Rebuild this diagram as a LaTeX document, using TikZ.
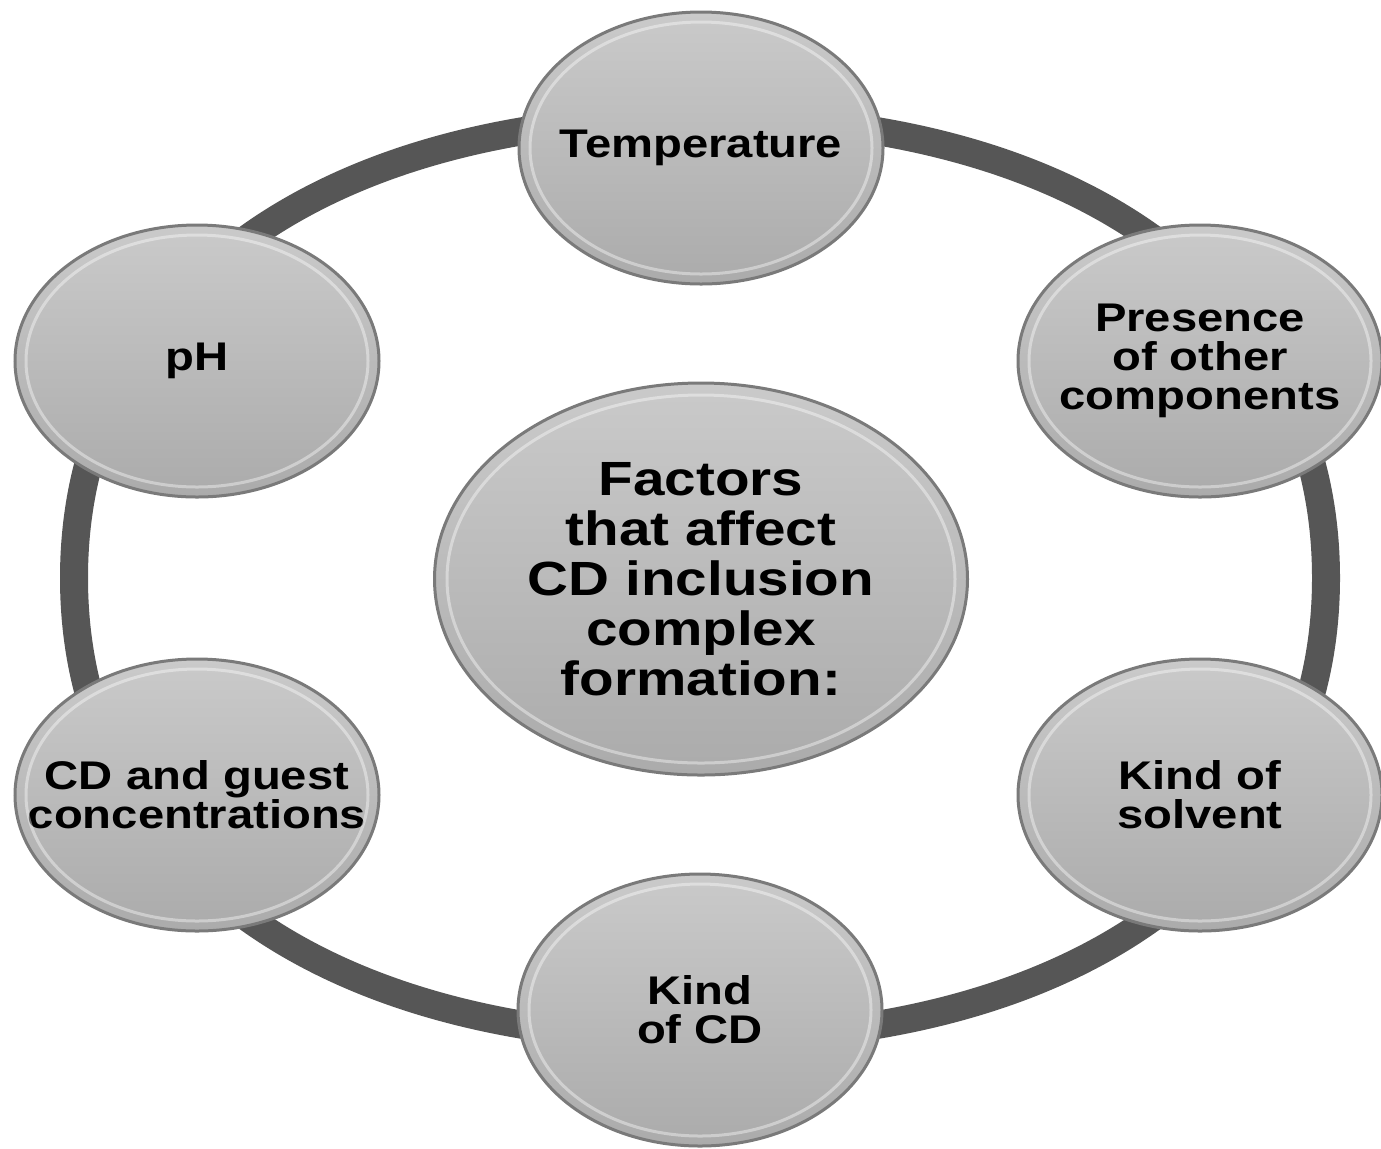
\documentclass[tikz,border=0pt]{standalone}
\usepackage{fontspec}
\newfontfamily\labfont{Liberation Sans}[FakeStretch=1.18]
\usetikzlibrary{shapes.geometric}
\definecolor{ringgray}{HTML}{565656}
\definecolor{rimgray}{HTML}{7A7A7A}
\definecolor{filltop}{HTML}{CACACA}
\definecolor{fillbot}{HTML}{ABABAB}
\begin{document}
\begin{tikzpicture}[x=0.5pt,y=-0.5pt,
  bubble/.style={ellipse, draw=rimgray, line width=1.5pt, top color=filltop, bottom color=fillbot,
    minimum width=182pt, minimum height=136pt, inner sep=0pt},
  centre/.style={bubble, minimum width=266.5pt, minimum height=196pt},
  lab/.style={inner sep=0pt, align=center, text=black,
    font=\labfont\bfseries\fontsize{20pt}{19.5pt}\selectfont},
  biglab/.style={lab, font=\labfont\bfseries\fontsize{24pt}{25pt}\selectfont},
  hl/.style={draw=white, opacity=0.4, line width=1.5pt},
  ringline/.style={draw=ringgray, line width=14pt}]
\useasboundingbox (0,0) rectangle (1381,1148);
% ring
\coordinate (rE) at (1326,578);
\coordinate (rN) at (700,117);
\coordinate (rW) at (74,578);
\coordinate (rS) at (700,1039);
\draw[ringline] (rE) .. controls (1326,295.6) and (1083.4,117) .. (rN)
  .. controls (316.6,117) and (74,295.6) .. (rW)
  .. controls (74,860.4) and (316.6,1039) .. (rS)
  .. controls (1083.4,1039) and (1326,860.4) .. (rE) -- cycle;
% bubbles
\node[bubble, label={[lab]center:Temperature}] (temp) at (701,148) {};
\node[bubble, label={[lab]center:Presence\\of other\\components}] (pres) at (1200,361) {};
\node[bubble, label={[lab]center:Kind of\\solvent}] (solv) at (1200,795) {};
\node[bubble, label={[lab]center:Kind\\of CD}] (kcd) at (700,1010) {};
\node[bubble, label={[lab]center:CD and guest\\concentrations}] (conc) at (197,795) {};
\node[bubble, label={[lab]center:pH}] (ph) at (197,361) {};
\node[centre, label={[biglab]center:Factors\\that affect\\CD inclusion\\complex\\formation:}] (fac) at (701,579) {};
% highlights
\foreach \n in {temp,pres,solv,kcd,conc,ph}{
  \draw[hl] (\n.center) ellipse [x radius=171, y radius=126];
}
\draw[hl] (fac.center) ellipse [x radius=254, y radius=184];
\end{tikzpicture}
\end{document}
